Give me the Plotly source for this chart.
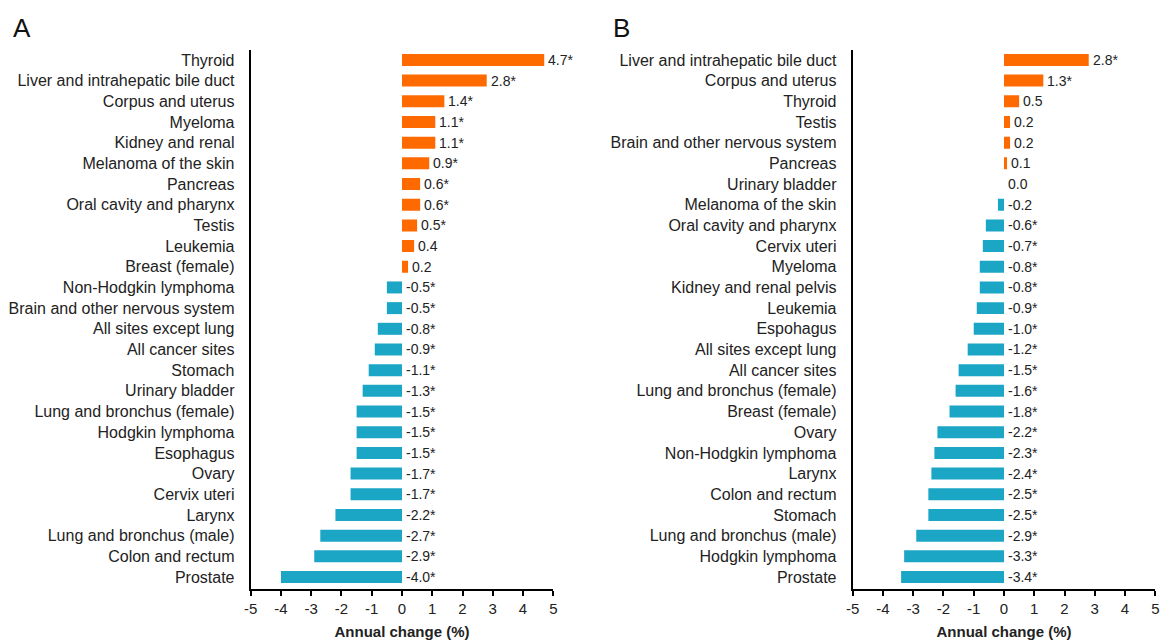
import plotly.graph_objects as go

cats_a = ["Thyroid", "Liver and intrahepatic bile duct", "Corpus and uterus", "Myeloma",
          "Kidney and renal", "Melanoma of the skin", "Pancreas", "Oral cavity and pharynx",
          "Testis", "Leukemia", "Breast (female)", "Non-Hodgkin lymphoma",
          "Brain and other nervous system", "All sites except lung", "All cancer sites",
          "Stomach", "Urinary bladder", "Lung and bronchus (female)", "Hodgkin lymphoma",
          "Esophagus", "Ovary", "Cervix uteri", "Larynx", "Lung and bronchus (male)",
          "Colon and rectum", "Prostate"]
vals_a = [4.7, 2.8, 1.4, 1.1, 1.1, 0.9, 0.6, 0.6, 0.5, 0.4, 0.2, -0.5, -0.5, -0.8, -0.9,
          -1.1, -1.3, -1.5, -1.5, -1.5, -1.7, -1.7, -2.2, -2.7, -2.9, -4.0]
sig_a = [1, 1, 1, 1, 1, 1, 1, 1, 1, 0, 0, 1, 1, 1, 1, 1, 1, 1, 1, 1, 1, 1, 1, 1, 1, 1]

cats_b = ["Liver and intrahepatic bile duct", "Corpus and uterus", "Thyroid", "Testis",
          "Brain and other nervous system", "Pancreas", "Urinary bladder",
          "Melanoma of the skin", "Oral cavity and pharynx", "Cervix uteri", "Myeloma",
          "Kidney and renal pelvis", "Leukemia", "Espohagus", "All sites except lung",
          "All cancer sites", "Lung and bronchus (female)", "Breast (female)", "Ovary",
          "Non-Hodgkin lymphoma", "Larynx", "Colon and rectum", "Stomach",
          "Lung and bronchus (male)", "Hodgkin lymphoma", "Prostate"]
vals_b = [2.8, 1.3, 0.5, 0.2, 0.2, 0.1, 0.0, -0.2, -0.6, -0.7, -0.8, -0.8, -0.9, -1.0,
          -1.2, -1.5, -1.6, -1.8, -2.2, -2.3, -2.4, -2.5, -2.5, -2.9, -3.3, -3.4]
sig_b = [1, 1, 0, 0, 0, 0, 0, 0, 1, 1, 1, 1, 1, 1, 1, 1, 1, 1, 1, 1, 1, 1, 1, 1, 1, 1]

x_ticks = [-5, -4, -3, -2, -1, 0, 1, 2, 3, 4, 5]

ORANGE = "#FF6A00"
BLUE = "#1BA6C6"
FONT = "Liberation Sans, Arial, sans-serif"

fig = go.Figure()
annotations = []

panels = [
    (cats_a, vals_a, sig_a, "x", "y", "A", 11 / 1163),
    (cats_b, vals_b, sig_b, "x2", "y2", "B", 611 / 1163),
]

for cats, vals, sig, xa, ya, letter, lx in panels:
    colors = [ORANGE if v > 0 else BLUE for v in vals]
    fig.add_trace(go.Bar(
        y=cats, x=vals, orientation="h", marker=dict(color=colors, line=dict(width=0)),
        width=0.58, xaxis=xa, yaxis=ya, showlegend=False, hoverinfo="x+y"))
    for c, v, s in zip(cats, vals, sig):
        label = f"{v:.1f}" + ("*" if s else "")
        annotations.append(dict(
            x=max(v, 0), y=c, xref=xa, yref=ya, text=label, showarrow=False,
            xanchor="left", yanchor="middle", xshift=2,
            font=dict(family=FONT, size=14, color="#222")))
    annotations.append(dict(
        x=lx, y=1 - 28 / 640, xref="paper", yref="paper", text=letter, showarrow=False,
        xanchor="left", yanchor="middle", font=dict(family=FONT, size=26, color="#111")))

n = len(cats_a)
ydom = [1 - 589 / 640, 1 - 50 / 640]

axis_common = dict(
    range=[-5, 5], tickvals=x_ticks, ticktext=[str(t) for t in x_ticks],
    ticks="outside", ticklen=5, tickwidth=1.5, automargin=False,
    tickcolor="black", showline=True, linecolor="black", linewidth=2,
    showgrid=False, zeroline=False, tickfont=dict(family=FONT, size=15, color="#222"),
    title=dict(text="<b>Annual change (%)</b>", font=dict(family=FONT, size=15, color="#222"),
               standoff=10),
    fixedrange=True)

yaxis_common = dict(
    range=[n - 1 + 0.58, -0.48], showline=True, linecolor="black", linewidth=2,
    showgrid=False, zeroline=False, ticks="", ticklabelstandoff=11, automargin=False,
    tickfont=dict(family=FONT, size=16, color="#222"), domain=ydom, type="category")

fig.update_layout(
    width=1163, height=640, margin=dict(l=0, r=0, t=0, b=0, autoexpand=False),
    paper_bgcolor="white", plot_bgcolor="white",
    xaxis=dict(domain=[250.7 / 1163, 553.3 / 1163], anchor="y", **axis_common),
    yaxis=dict(anchor="x", **yaxis_common),
    xaxis2=dict(domain=[852.7 / 1163, 1155.3 / 1163], anchor="y2", **axis_common),
    yaxis2=dict(anchor="x2", **yaxis_common),
    annotations=annotations, bargap=0.4,
)

fig.write_html("out.html")
